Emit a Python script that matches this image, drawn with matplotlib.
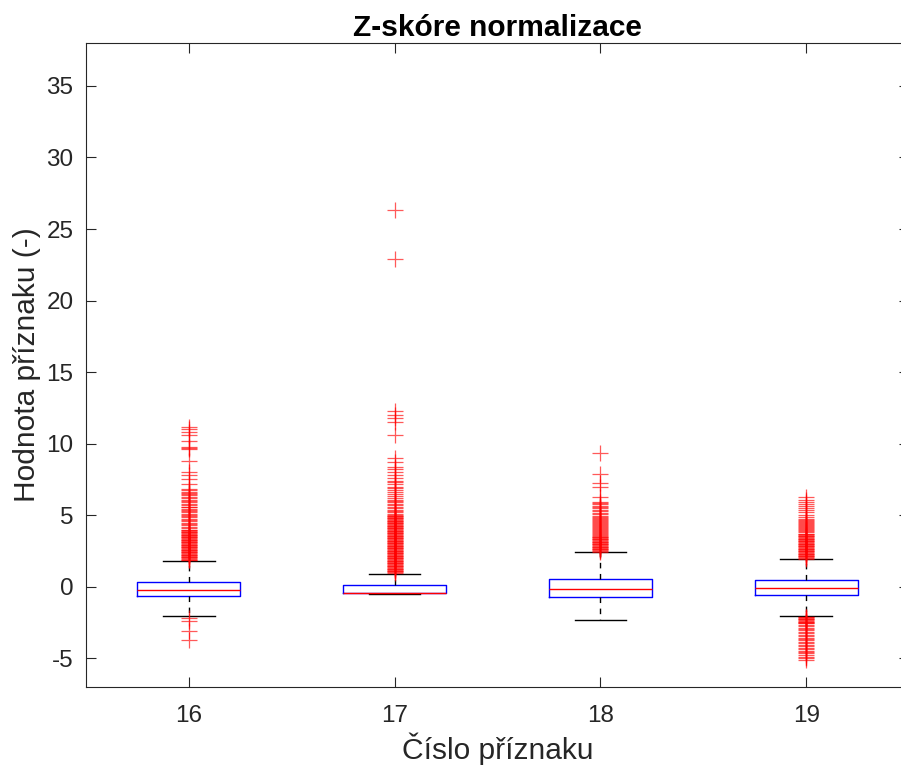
import matplotlib
matplotlib.use("Agg")
import matplotlib.pyplot as plt

plt.rcParams['font.family'] = ['Liberation Sans', 'DejaVu Sans']
plt.rcParams['axes.unicode_minus'] = False

# ---- data ----
categories = ["16", "17", "18", "19"]
medians = [-0.23, -0.42, -0.18, -0.09]
q1s = [-0.63, -0.46, -0.72, -0.58]
q3s = [0.35, 0.12, 0.52, 0.47]
whis_lo = [-2.04, -0.53, -2.32, -2.04]
whis_hi = [1.81, 0.93, 2.42, 1.93]

fliers_16 = [1.85, 1.9, 1.95, 2.0, 2.05, 2.1, 2.15, 2.2, 2.25, 2.3, 2.35, 2.4,
             2.45, 2.5, 2.55, 2.6, 2.65, 2.7, 2.75, 2.8, 2.85, 2.9, 2.95, 3.0,
             3.05, 3.1, 3.15, 3.2, 3.25, 3.3, 3.35, 3.4, 3.45, 3.5, 3.55, 3.6,
             3.65, 3.7, 3.75, 3.8, 3.85, 3.9, 3.95, 4.0,
             4.1, 4.18, 4.3, 4.38, 4.45, 4.6, 4.7, 4.75, 4.85, 4.95, 5.0, 5.08,
             5.2, 5.3, 5.35, 5.45, 5.55, 5.6, 5.7, 5.8, 5.9, 6.0, 6.05, 6.2,
             6.3, 6.4, 6.5, 6.55, 6.65, 6.75, 6.85,
             7.2, 7.5, 7.8, 8.0, 8.8, 9.6, 9.7, 9.8, 10.2, 10.6, 10.8, 11.0, 11.2,
             -2.2, -2.37, -3.09, -3.72]
fliers_17 = [0.98, 1.03, 1.08, 1.13, 1.18, 1.23, 1.28, 1.33, 1.38, 1.43, 1.48,
             1.53, 1.58, 1.63, 1.68, 1.73, 1.78, 1.83, 1.88, 1.93, 1.98, 2.03,
             2.08, 2.13, 2.18, 2.23, 2.28, 2.33, 2.38, 2.43, 2.48, 2.53, 2.58,
             2.63, 2.68, 2.73, 2.78, 2.83, 2.88, 2.93, 2.98, 3.03, 3.08, 3.13,
             3.18, 3.23, 3.28, 3.33, 3.38, 3.43, 3.48, 3.53, 3.58, 3.63, 3.68,
             3.73, 3.78, 3.83, 3.88, 3.93, 3.98, 4.03, 4.08, 4.13, 4.18, 4.23,
             4.28, 4.33, 4.38, 4.43, 4.48, 4.53, 4.58, 4.63, 4.68, 4.73, 4.78,
             4.83, 4.88, 4.93, 4.98, 5.03, 5.1,
             5.2, 5.3, 5.4, 5.5, 5.6, 5.7, 5.8, 5.9, 6.0, 6.1, 6.2, 6.35, 6.5,
             6.6, 6.75, 6.9, 7.0, 7.15, 7.3, 7.4,
             7.6, 7.8, 8.0, 8.2, 8.4, 8.7, 9.0,
             10.6, 11.5, 11.8, 12.0, 12.3, 22.9, 26.3]
fliers_18 = [2.46, 2.51, 2.56, 2.61, 2.66, 2.71, 2.76, 2.81, 2.86, 2.91, 2.96,
             3.01, 3.06, 3.11, 3.16, 3.21, 3.26, 3.31, 3.36, 3.41, 3.46, 3.51,
             3.58, 3.65, 3.72, 3.79, 3.86, 3.93, 4.0, 4.07, 4.14, 4.21, 4.28,
             4.35, 4.42, 4.49, 4.56, 4.63, 4.7, 4.77, 4.84, 4.91, 4.98,
             5.08, 5.18, 5.28, 5.38, 5.48, 5.58, 5.68, 5.78, 5.86, 5.93,
             6.28, 7.0, 7.26, 7.9, 9.38]
fliers_19 = [1.97, 2.02, 2.07, 2.12, 2.17, 2.22, 2.27, 2.32, 2.37, 2.42, 2.47,
             2.52, 2.57, 2.62, 2.67, 2.72, 2.77, 2.82, 2.87, 2.92, 2.97, 3.02,
             3.07, 3.12, 3.17, 3.22, 3.27, 3.32, 3.37, 3.42, 3.47, 3.52, 3.57,
             3.62, 3.67, 3.72,
             3.8, 3.88, 3.95, 4.03, 4.1, 4.18, 4.25, 4.33, 4.4, 4.48, 4.55,
             4.62, 4.7, 4.77,
             4.9, 5.05, 5.2, 5.35, 5.5, 5.65, 5.8, 5.95, 6.1, 6.28,
             -2.08, -2.13, -2.18, -2.23, -2.28, -2.33, -2.38, -2.43, -2.48,
             -2.53, -2.56,
             -2.65, -2.75, -2.85, -2.95, -3.05, -3.15, -3.25, -3.35, -3.45,
             -3.55, -3.65, -3.75, -3.85, -3.95, -4.05, -4.15, -4.25, -4.35,
             -4.45, -4.55, -4.65, -4.75, -4.9, -5.0, -5.12]
fliers = [fliers_16, fliers_17, fliers_18, fliers_19]

title = "Z-skóre normalizace"
xlabel = "Číslo příznaku"
ylabel = "Hodnota příznaku (-)"
yticks = [-5, 0, 5, 10, 15, 20, 25, 30, 35]

# ---- figure ----
fig = plt.figure(figsize=(9.01, 7.67), dpi=100)
ax = fig.add_axes([86 / 901, 1 - 687 / 767, (909 - 86) / 901, (687 - 43) / 767])

stats = []
for i, lab in enumerate(categories):
    stats.append(dict(label=lab, med=medians[i], q1=q1s[i], q3=q3s[i],
                      whislo=whis_lo[i], whishi=whis_hi[i], fliers=fliers[i]))

ax.bxp(stats, positions=[1, 2, 3, 4], widths=0.5, showfliers=True,
       boxprops=dict(color='blue', linewidth=1.0),
       medianprops=dict(color='red', linewidth=1.0),
       whiskerprops=dict(color='black', linewidth=1.0, linestyle=(0, (4, 4))),
       capprops=dict(color='black', linewidth=1.0),
       flierprops=dict(marker='+', markersize=11, markeredgecolor='red',
                       markeredgewidth=0.9, alpha=0.65, linestyle='none'))

ax.set_xlim(0.5, 4.5)
ax.set_ylim(-7, 38)
ax.set_yticks(yticks)
ax.set_xticks([1, 2, 3, 4])
ax.set_xticklabels(categories)

for s in ax.spines.values():
    s.set_color('#262626')
    s.set_linewidth(0.8)
ax.tick_params(direction='in', length=7, width=0.8, colors='#262626',
               labelsize=17.5, top=True, right=True)
ax.tick_params(axis='x', pad=13)
ax.tick_params(axis='y', pad=9)
for lbl in ax.get_xticklabels() + ax.get_yticklabels():
    lbl.set_color('#262626')

ax.set_title(title, fontsize=21.5, fontweight='bold', pad=5)
ax.set_xlabel(xlabel, fontsize=21.5, color='#262626', labelpad=4)
ax.set_ylabel(ylabel, fontsize=21.5, color='#262626', labelpad=4)

fig.savefig("out.png", dpi=100)
